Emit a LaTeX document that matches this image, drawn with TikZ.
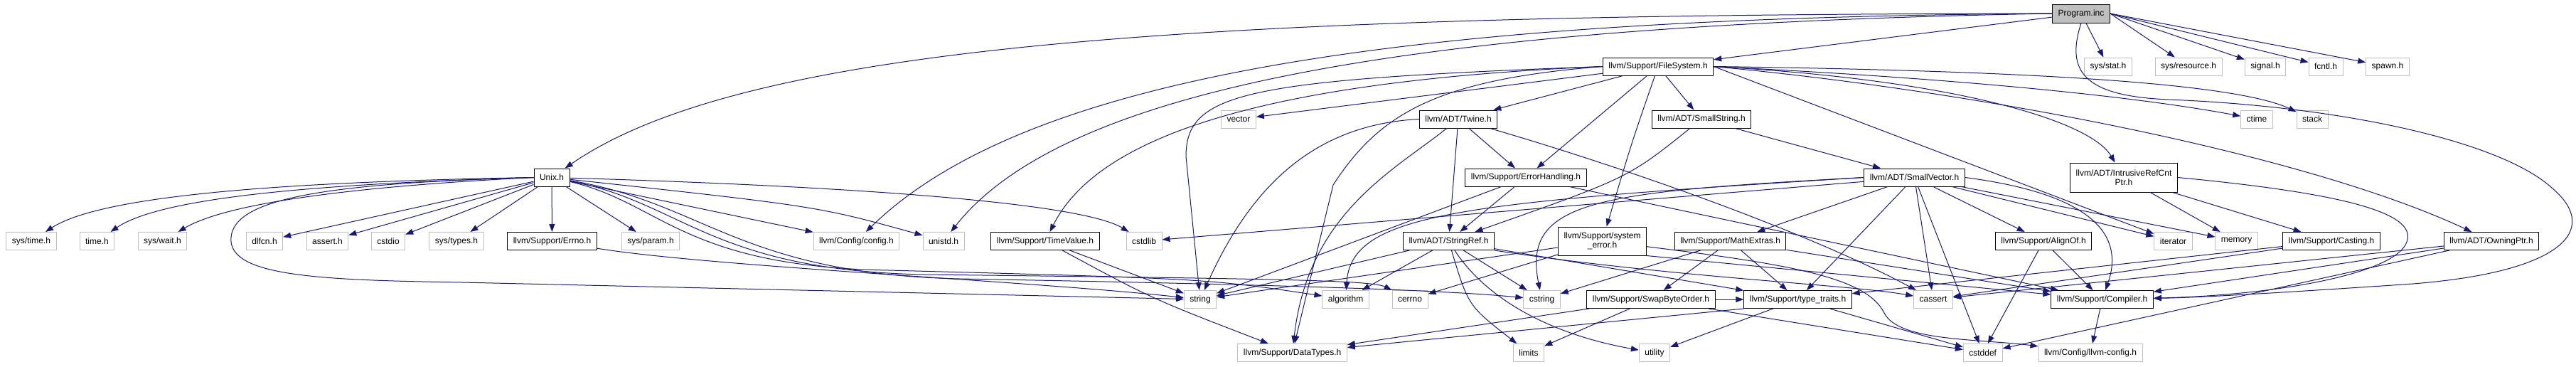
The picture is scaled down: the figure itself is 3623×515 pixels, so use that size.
\documentclass[tikz,border=0pt]{standalone}
\usepackage{fontspec}
\setmainfont{Liberation Sans}
\usetikzlibrary{arrows.meta}
\definecolor{edgeblue}{RGB}{25,25,112}
\definecolor{boxgrey}{RGB}{191,191,191}
\begin{document}
\begin{tikzpicture}[x=1pt, y=-1pt,
  every node/.style={font=\fontsize{12}{13}\selectfont, inner xsep=8pt, inner ysep=0pt, minimum height=25pt, line width=1pt, fill=white},
  docbox/.style={draw=black},
  extbox/.style={draw=boxgrey},
  dep/.style={draw=edgeblue, line width=1pt, -{Triangle[length=11pt,width=8pt]}}]
\useasboundingbox (0,0) rectangle (3623,515);
\node[docbox,fill=boxgrey,minimum height=26pt] (prog) at (2927,19) {Program.inc};
\node[docbox] (fs) at (2332,93.5) {llvm/Support/FileSystem.h};
\node[extbox] (sysstat) at (2965,93.5) {sys/stat.h};
\node[extbox] (sysres) at (3078,93.5) {sys/resource.h};
\node[extbox] (signalh) at (3186,93.5) {signal.h};
\node[extbox] (fcntl) at (3271,93.5) {fcntl.h};
\node[extbox] (spawn) at (3358,93.5) {spawn.h};
\node[extbox] (vector) at (1742,167.5) {vector};
\node[docbox] (twine) at (2051,167.5) {llvm/ADT/Twine.h};
\node[docbox] (smallstr) at (2393,167.5) {llvm/ADT/SmallString.h};
\node[extbox] (ctime) at (3174,167.5) {ctime};
\node[extbox] (stack) at (3252,167.5) {stack};
\node[docbox] (unix) at (776,249.5) {Unix.h};
\node[docbox] (errhand) at (2146,249.5) {llvm/Support/ErrorHandling.h};
\node[docbox] (smallvec) at (2692.5,249.5) {llvm/ADT/SmallVector.h};
\node[docbox,align=center,minimum height=41pt] (refcnt) at (2987,249.5) {llvm/ADT/IntrusiveRefCnt\\Ptr.h};
\node[extbox] (systime) at (44,339) {sys/time.h};
\node[extbox] (timeh) at (136.5,339) {time.h};
\node[extbox] (syswait) at (228.5,339) {sys/wait.h};
\node[extbox] (dlfcn) at (372,339) {dlfcn.h};
\node[extbox] (asserth) at (460.5,339) {assert.h};
\node[extbox] (cstdio) at (546,339) {cstdio};
\node[extbox] (systypes) at (642,339) {sys/types.h};
\node[docbox] (errno) at (776.5,339) {llvm/Support/Errno.h};
\node[extbox] (sysparam) at (915,339) {sys/param.h};
\node[extbox] (config) at (1204.5,339) {llvm/Config/config.h};
\node[extbox] (unistd) at (1327,339) {unistd.h};
\node[docbox] (timeval) at (1470,339) {llvm/Support/TimeValue.h};
\node[extbox] (cstdlib) at (1609,339) {cstdlib};
\node[docbox] (strref) at (2037.5,339) {llvm/ADT/StringRef.h};
\node[docbox,align=center,minimum height=40pt] (syserr) at (2253.5,339) {llvm/Support/system\\\_error.h};
\node[docbox] (mathext) at (2433.6,339) {llvm/Support/MathExtras.h};
\node[docbox] (alignof) at (2874,339) {llvm/Support/AlignOf.h};
\node[extbox] (iterator) at (3056.5,339) {iterator};
\node[extbox] (memory) at (3145.6,339) {memory};
\node[docbox] (casting) at (3279,339) {llvm/Support/Casting.h};
\node[docbox] (owning) at (3504,339) {llvm/ADT/OwningPtr.h};
\node[extbox] (string) at (1688,421) {string};
\node[extbox] (algorithm) at (1892.6,421) {algorithm};
\node[extbox] (cerrno) at (1983,421) {cerrno};
\node[extbox] (cstring) at (2168.5,421) {cstring};
\node[docbox] (swapbyte) at (2322,421) {llvm/Support/SwapByteOrder.h};
\node[docbox] (traits) at (2528.5,421) {llvm/Support/type\_traits.h};
\node[extbox] (cassert) at (2719,421) {cassert};
\node[docbox] (compiler) at (2956.6,421) {llvm/Support/Compiler.h};
\node[extbox] (datatypes) at (1817.6,496) {llvm/Support/DataTypes.h};
\node[extbox] (limits) at (2150,496) {limits};
\node[extbox] (utility) at (2327,496) {utility};
\node[extbox] (cstddef) at (2788.7,496) {cstddef};
\node[extbox] (llvmcfg) at (2940,496) {llvm/Config/llvm-config.h};
\draw[dep] (prog.west) .. controls (1700,20) and (1050,60) .. (unix);
\draw[dep] (prog) -- (fs);
\draw[dep] (prog.west) .. controls (2000,25) and (1450,100) .. (config);
\draw[dep] (prog.west) .. controls (2000,35) and (1500,120) .. (unistd);
\draw[dep] (prog) -- (sysstat);
\draw[dep] (prog.east) -- (sysres);
\draw[dep] (prog.east) -- (signalh);
\draw[dep] (prog.east) -- (fcntl);
\draw[dep] (prog.east) -- (spawn);
\draw[dep] (prog.south) .. controls (2905,100) and (2930,135) .. (3050,140) .. controls (3300,150) and (3520,200) .. (3590,265) .. controls (3660,325) and (3600,385) .. (3380,400) .. controls (3200,412) and (3100,418) .. (compiler);
\draw[dep] (fs) -- (vector);
\draw[dep] (fs) -- (twine);
\draw[dep] (fs) -- (errhand);
\draw[dep] (fs) .. controls (2295,200) .. (syserr);
\draw[dep] (fs) -- (smallstr);
\draw[dep] (fs.east) .. controls (2750,112) and (2940,170) .. (refcnt);
\draw[dep] (fs.east) .. controls (2750,110) and (3000,135) .. (ctime);
\draw[dep] (fs.east) .. controls (2900,100) and (3150,120) .. (stack);
\draw[dep] (fs.east) -- (iterator);
\draw[dep] (fs.east) .. controls (2800,130) and (3250,220) .. (owning);
\draw[dep] (fs.west) .. controls (1750,115) and (1540,200) .. (timeval);
\draw[dep] (fs.west) .. controls (1750,112) and (1668,130) .. (1668,220) -- (string);
\draw[dep] (fs.west) .. controls (2020,112) and (1940,160) .. (1875,260) -- (datatypes);
\draw[dep] (unix.west) .. controls (450,255) and (150,270) .. (systime);
\draw[dep] (unix.west) .. controls (470,258) and (230,275) .. (timeh);
\draw[dep] (unix.west) .. controls (500,262) and (320,285) .. (syswait);
\draw[dep] (unix) -- (dlfcn);
\draw[dep] (unix) -- (asserth);
\draw[dep] (unix) -- (cstdio);
\draw[dep] (unix) -- (systypes);
\draw[dep] (unix) -- (errno);
\draw[dep] (unix) -- (sysparam);
\draw[dep] (unix) -- (config);
\draw[dep] (unix) .. controls (1150,290) .. (unistd);
\draw[dep] (unix) .. controls (1200,262) and (1520,285) .. (cstdlib);
\draw[dep] (unix.west) .. controls (450,258) and (320,280) .. (325,340) .. controls (330,388) and (450,394) .. (650,397) -- (string);
\draw[dep] (unix) .. controls (930,285) and (960,375) .. (1250,380) .. controls (1700,392) .. (algorithm);
\draw[dep] (unix) .. controls (960,285) and (1000,380) .. (1300,386) .. controls (1800,392) and (1930,394) .. (cerrno);
\draw[dep] (unix) .. controls (990,285) and (1040,385) .. (1350,392) .. controls (1900,402) and (2050,410) .. (cstring);
\draw[dep] (errno) .. controls (1000,375) and (1450,395) .. (string);
\draw[dep] (twine) -- (errhand);
\draw[dep] (twine) -- (strref);
\draw[dep] (twine.west) .. controls (1850,175) and (1760,260) .. (string);
\draw[dep] (twine) .. controls (1960,240) and (1840,300) .. (datatypes);
\draw[dep] (twine) .. controls (2300,240) and (2550,330) .. (cassert);
\draw[dep] (errhand) -- (strref);
\draw[dep] (errhand) -- (string);
\draw[dep] (errhand) -- (compiler);
\draw[dep] (smallstr) -- (smallvec);
\draw[dep] (smallstr) .. controls (2290,250) .. (strref);
\draw[dep] (smallvec) -- (alignof);
\draw[dep] (smallvec.east) .. controls (2960,275) and (2985,340) .. (compiler);
\draw[dep] (smallvec) -- (mathext);
\draw[dep] (smallvec) -- (traits);
\draw[dep] (smallvec) -- (cassert);
\draw[dep] (smallvec) -- (cstddef);
\draw[dep] (smallvec) -- (cstdlib);
\draw[dep] (smallvec.west) .. controls (2050,285) and (1900,300) .. (algorithm);
\draw[dep] (smallvec.west) .. controls (2250,270) and (2140,280) .. (cstring);
\draw[dep] (smallvec) -- (iterator);
\draw[dep] (smallvec) -- (memory);
\draw[dep] (refcnt) -- (memory);
\draw[dep] (refcnt) -- (casting);
\draw[dep] (refcnt.east) .. controls (3300,272) and (3400,300) .. (3385,340) .. controls (3370,385) and (3200,415) .. (compiler);
\draw[dep] (casting) -- (traits);
\draw[dep] (casting) -- (cassert);
\draw[dep] (owning) -- (compiler);
\draw[dep] (owning) -- (cassert);
\draw[dep] (owning) -- (cstddef);
\draw[dep] (timeval) -- (string);
\draw[dep] (timeval) .. controls (1620,420) .. (datatypes);
\draw[dep] (strref) -- (algorithm);
\draw[dep] (strref) -- (cstring);
\draw[dep] (strref) .. controls (2065,430) .. (limits);
\draw[dep] (strref) .. controls (2090,420) and (2180,470) .. (utility);
\draw[dep] (strref) -- (string);
\draw[dep] (strref) -- (traits);
\draw[dep] (strref.south east) .. controls (2350,390) and (2600,400) .. (cassert);
\draw[dep] (syserr) -- (cerrno);
\draw[dep] (syserr) -- (string);
\draw[dep] (syserr.south east) -- (compiler);
\draw[dep] (syserr) .. controls (2520,372) and (2625,390) .. (2650,440) .. controls (2670,480) and (2780,476) .. (llvmcfg);
\draw[dep] (mathext) -- (swapbyte);
\draw[dep] (mathext) -- (traits);
\draw[dep] (mathext) -- (cstring);
\draw[dep] (mathext) -- (compiler);
\draw[dep] (alignof) -- (cstddef);
\draw[dep] (alignof) -- (compiler);
\draw[dep] (swapbyte) -- (datatypes);
\draw[dep] (swapbyte) -- (limits);
\draw[dep] (swapbyte) -- (traits);
\draw[dep] (swapbyte) -- (cstddef);
\draw[dep] (traits.south west) -- (datatypes);
\draw[dep] (traits) -- (utility);
\draw[dep] (traits) -- (cstddef);
\draw[dep] (compiler) -- (llvmcfg);
\end{tikzpicture}
\end{document}
